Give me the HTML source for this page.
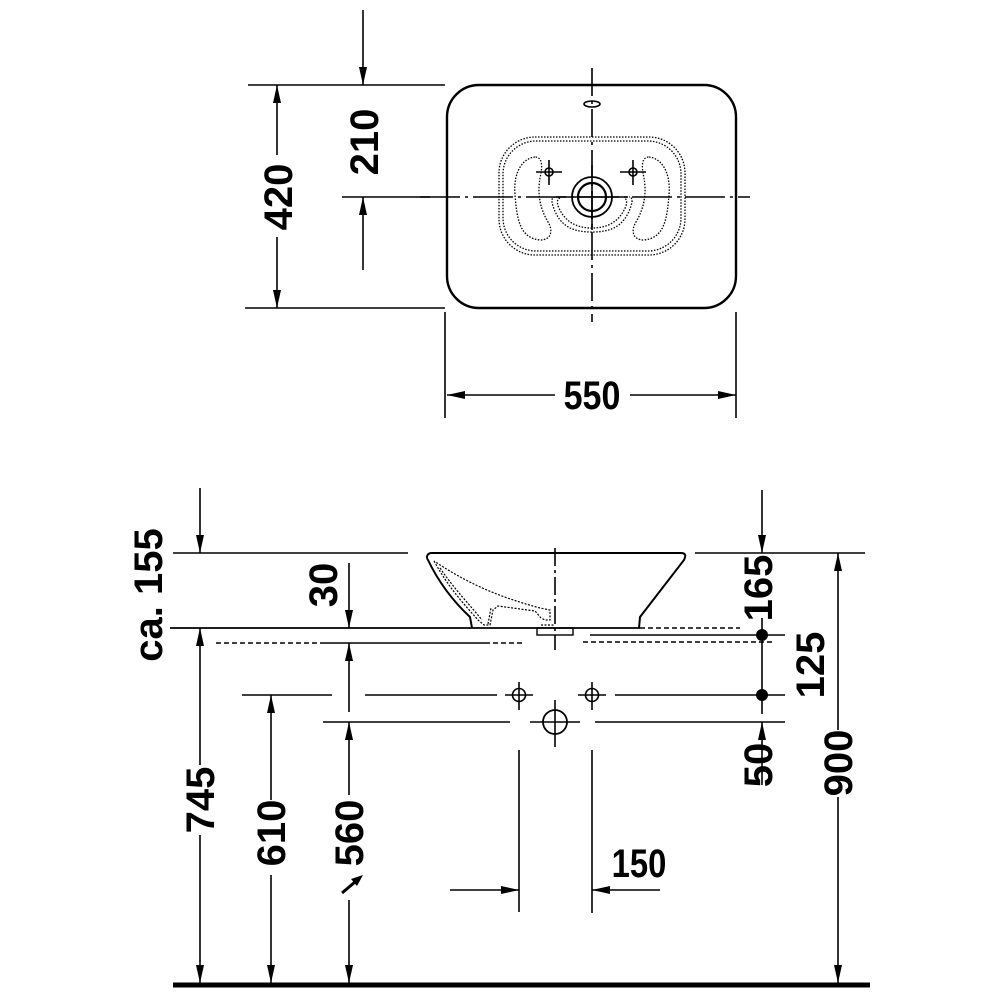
<!DOCTYPE html>
<html><head><meta charset="utf-8"><style>
html,body{margin:0;padding:0;background:#fff}
svg{display:block}
text{font-family:"Liberation Sans",sans-serif;font-weight:bold;font-size:40px;fill:#000}
</style></head><body>
<svg width="1000" height="1000" viewBox="0 0 1000 1000" xmlns="http://www.w3.org/2000/svg">
<g stroke="#000" fill="none" stroke-width="1.6">
<!-- TOP VIEW -->
<rect x="447" y="85" width="289" height="223" rx="32" stroke-width="2.4"/>
<line x1="592" y1="68" x2="592" y2="322" stroke-dasharray="28,5,3,5"/>
<line x1="420" y1="197" x2="750" y2="197" stroke-dasharray="40,5,3,5"/>
<ellipse cx="592" cy="104" rx="8" ry="3"/>
<g stroke-dasharray="1.5,1.5" stroke-width="1.3">
<rect x="499" y="137" width="186" height="118" rx="36"/>
<rect x="503" y="141" width="178" height="110" rx="33"/>
<path d="M535,157 C524,158 513,170 515,195 C517,220 520,238 540,240 C552,240 553,230 548,222 C538,205 538,190 540,178 C543,165 542,157 535,157 Z"/>
<path d="M649,157 C660,158 671,170 669,195 C667,220 664,238 644,240 C632,240 631,230 636,222 C646,205 646,190 644,178 C641,165 642,157 649,157 Z"/>
<path d="M555,197 C552,197 551,200 553,206 C560,228 575,232 592,232 C609,232 624,228 631,206 C633,200 632,197 629,197"/>
<path d="M560,198 C557,199 557,202 558,206 C565,223 578,228 592,228 C606,228 619,223 626,206 C627,202 627,199 624,198"/>
</g>
<circle cx="592" cy="197" r="20" stroke-width="1.8"/>
<circle cx="592" cy="197" r="14" stroke-width="2.2"/>
<line x1="556" y1="197" x2="628" y2="197"/>
<line x1="592" y1="165" x2="592" y2="230"/>
<circle cx="549" cy="172" r="4"/><line x1="536" y1="172" x2="562" y2="172"/><line x1="549" y1="160" x2="549" y2="185"/>
<circle cx="633" cy="172" r="4"/><line x1="620" y1="172" x2="646" y2="172"/><line x1="633" y1="160" x2="633" y2="185"/>

<line x1="248" y1="85" x2="445" y2="85"/>
<line x1="245" y1="308" x2="445" y2="308"/>
<line x1="342" y1="197" x2="430" y2="197"/>
<line x1="277" y1="85" x2="277" y2="155"/>
<line x1="277" y1="237" x2="277" y2="308"/>
<line x1="363" y1="10" x2="363" y2="85"/>
<line x1="363" y1="270" x2="363" y2="197"/>
<line x1="445" y1="312" x2="445" y2="418"/>
<line x1="736" y1="312" x2="736" y2="418"/>
<line x1="447" y1="395" x2="555" y2="395"/>
<line x1="630" y1="395" x2="736" y2="395"/>

<!-- SIDE VIEW -->
<line x1="173" y1="553" x2="408" y2="553"/>
<line x1="695" y1="553" x2="865" y2="553"/>
<path d="M432,553 L681,553 C686,553 686,556 684,560 L640,617 L639,628 M432,553 C427,553 426,557 428,560 C440,585 455,603 470,617 L472,628" stroke-width="2"/>
<g stroke-dasharray="2,1.5" stroke-width="1.2">
<path d="M434,561 C450,590 465,605 478,620 L484,625 L490,625 L493,610 L498,606 L535,611 L541,618 L545,620 L550,620 L550,610 L540,608 C500,597 470,585 434,561"/>
<path d="M440,568 C455,590 470,605 482,620 M488,624 L491,608"/>
<line x1="541" y1="625" x2="555" y2="625"/>
</g>
<line x1="170" y1="628" x2="640" y2="628" stroke-width="1.8"/>
<line x1="640" y1="628" x2="740" y2="628" stroke-dasharray="5,3"/>
<rect x="537" y="628" width="36" height="7" stroke-width="1.4"/>
<line x1="555" y1="548" x2="555" y2="650" stroke-dasharray="18,4,3,4"/>
<line x1="216" y1="643" x2="320" y2="643" stroke-dasharray="5,3"/>
<line x1="320" y1="643" x2="485" y2="643"/>
<line x1="485" y1="643" x2="525" y2="643" stroke-dasharray="5,3"/>
<line x1="590" y1="635" x2="785" y2="635"/>
<line x1="583" y1="642" x2="775" y2="642" stroke-dasharray="5,3"/>
<line x1="242" y1="695" x2="332" y2="695"/>
<line x1="365" y1="695" x2="497" y2="695"/>
<line x1="505" y1="695" x2="533" y2="695"/>
<line x1="578" y1="695" x2="606" y2="695"/>
<line x1="615" y1="695" x2="785" y2="695"/>
<line x1="323" y1="722" x2="510" y2="722"/>
<line x1="530" y1="722" x2="580" y2="722"/>
<line x1="595" y1="722" x2="785" y2="722"/>
<circle cx="519" cy="695" r="6.5"/><line x1="519" y1="682" x2="519" y2="710"/>
<circle cx="592" cy="695" r="6.5"/><line x1="592" y1="682" x2="592" y2="710"/>
<circle cx="555" cy="722" r="12" stroke-width="1.8"/><line x1="555" y1="700" x2="555" y2="747"/>
<line x1="519" y1="750" x2="519" y2="912"/>
<line x1="592" y1="750" x2="592" y2="913"/>
<line x1="450" y1="890" x2="519" y2="890"/>
<line x1="660" y1="890" x2="592" y2="890"/>
<line x1="762" y1="490" x2="762" y2="553"/>
<line x1="762" y1="618" x2="762" y2="714"/>
<line x1="762" y1="785" x2="762" y2="722"/>
<line x1="838" y1="730" x2="838" y2="553"/>
<line x1="838" y1="797" x2="838" y2="983"/>
<line x1="200" y1="488" x2="200" y2="553"/>
<line x1="200" y1="765" x2="200" y2="628"/>
<line x1="200" y1="835" x2="200" y2="983"/>
<line x1="271" y1="800" x2="271" y2="695"/>
<line x1="271" y1="875" x2="271" y2="983"/>
<line x1="349" y1="563" x2="349" y2="628"/>
<line x1="349" y1="712" x2="349" y2="643"/>
<line x1="349" y1="795" x2="349" y2="722"/>
<line x1="349" y1="900" x2="349" y2="983"/>
<line x1="342" y1="893" x2="355" y2="882" stroke-width="3"/>
<line x1="173" y1="985" x2="870" y2="985" stroke-width="5"/>
</g>
<g fill="#000" stroke="none">
<circle cx="762" cy="635" r="6"/>
<circle cx="762" cy="695" r="6"/>
<!-- up arrows -->
<polygon points="277,85 273,103 281,103"/>
<polygon points="363,197 359,215 367,215"/>
<polygon points="762,722 758,740 766,740"/>
<polygon points="838,553 834,571 842,571"/>
<polygon points="200,628 196,646 204,646"/>
<polygon points="271,695 267,713 275,713"/>
<polygon points="349,643 345,661 353,661"/>
<polygon points="349,722 345,740 353,740"/>
<!-- down arrows -->
<polygon points="277,308 273,290 281,290"/>
<polygon points="363,85 359,67 367,67"/>
<polygon points="762,553 758,535 766,535"/>
<polygon points="838,983 834,965 842,965"/>
<polygon points="200,553 196,535 204,535"/>
<polygon points="200,983 196,965 204,965"/>
<polygon points="271,983 267,965 275,965"/>
<polygon points="349,628 345,610 353,610"/>
<polygon points="349,983 345,965 353,965"/>
<!-- horizontal -->
<polygon points="447,395 465,391 465,399"/>
<polygon points="736,395 718,391 718,399"/>
<polygon points="519,890 501,886 501,894"/>
<polygon points="592,890 610,886 610,894"/>
<polygon points="363,875 351,879 357,886"/>
</g>
<g>
<text transform="translate(292,197) rotate(-90)" text-anchor="middle">420</text>
<text transform="translate(378,142) rotate(-90)" text-anchor="middle">210</text>
<text transform="translate(592,409) scale(0.85,1)" text-anchor="middle">550</text>
<text transform="translate(162,595) rotate(-90)" text-anchor="middle">ca. 155</text>
<text transform="translate(337,585) rotate(-90)" text-anchor="middle">30</text>
<text transform="translate(214,800) rotate(-90)" text-anchor="middle">745</text>
<text transform="translate(285,833) rotate(-90)" text-anchor="middle">610</text>
<text transform="translate(363,833) rotate(-90)" text-anchor="middle">560</text>
<text transform="translate(772,588) rotate(-90)" text-anchor="middle">165</text>
<text transform="translate(824,665) rotate(-90)" text-anchor="middle">125</text>
<text transform="translate(772,765) rotate(-90)" text-anchor="middle">50</text>
<text transform="translate(852,763) rotate(-90)" text-anchor="middle">900</text>
<text transform="translate(639,877) scale(0.82,1)" text-anchor="middle">150</text>
</g>
</svg>
</body></html>
